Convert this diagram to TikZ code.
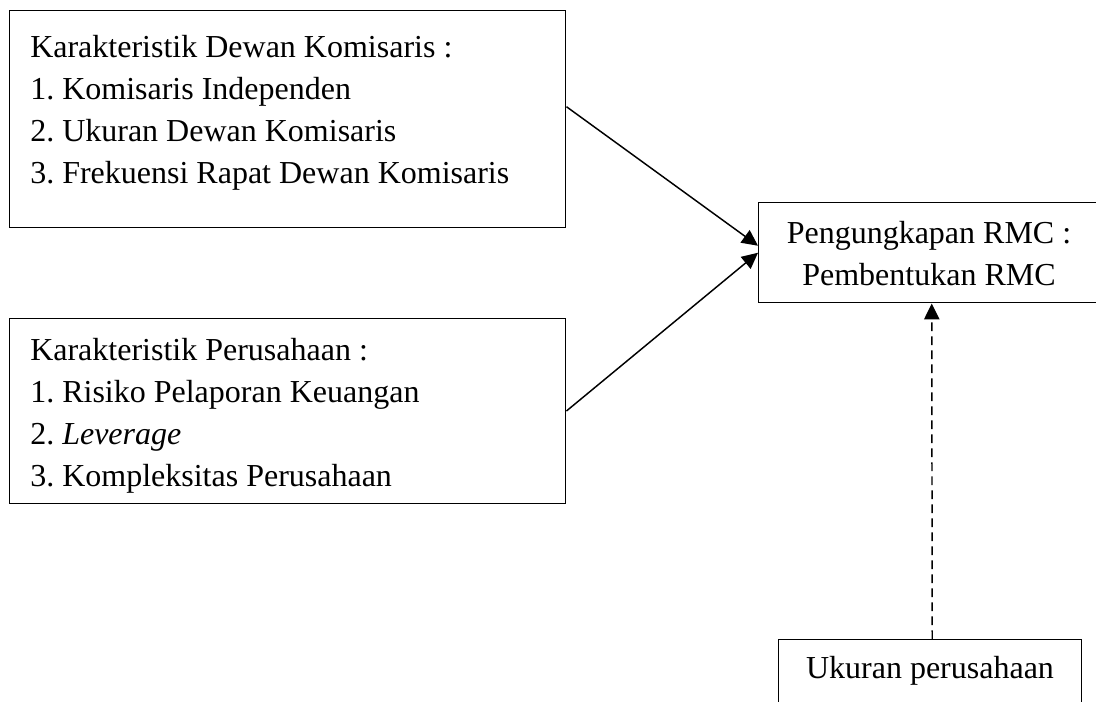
\documentclass[tikz,border=0pt]{standalone}
\usepackage{fontspec}
\setmainfont{Liberation Serif}
\usetikzlibrary{arrows.meta}
\frenchspacing
\begin{document}
\begin{tikzpicture}[x=0.75pt,y=-0.75pt,
  box/.style={draw, line width=1.1pt, inner sep=0pt, anchor=north west},
  txt/.style={inner sep=0pt, font=\fontsize{24}{31.5}\selectfont},
  conn/.style={line width=1.1pt, -{Triangle[length=12pt,width=11.5pt]}},
  dashconn/.style={conn, dash pattern=on 6.5pt off 4pt}]
\useasboundingbox (0,0) rectangle (1096,701);
% boxes
\node[box, minimum width=417pt, minimum height=162.75pt] (b1) at (9,10) {};
\node[box, minimum width=417pt, minimum height=139.1pt] (b2) at (9,317.5) {};
\node[box, minimum width=256.5pt, minimum height=75pt] (rmc) at (758,202) {};
\node[box, minimum width=227.25pt, minimum height=60pt] (ub) at (778,639) {};
% texts
\node[txt, anchor=base west] (t1) at (30,57.5) {\begin{tabular}[t]{@{}l@{}}Karakteristik Dewan Komisaris :\\1. Komisaris Independen\\2. Ukuran Dewan Komisaris\\3. Frekuensi Rapat Dewan Komisaris\end{tabular}};
\node[txt, anchor=base west] (t2) at (30,360) {\begin{tabular}[t]{@{}l@{}}Karakteristik Perusahaan :\\1. Risiko Pelaporan Keuangan\\2. \textit{Leverage}\\3. Kompleksitas Perusahaan\end{tabular}};
\node[txt, anchor=base] (t3) at (929,243) {\begin{tabular}[t]{@{}c@{}}Pengungkapan RMC :\\Pembentukan RMC\end{tabular}};
\node[txt, anchor=base] (t4) at (930,678) {Ukuran perusahaan};
% connectors
\draw[conn] ([yshift=9.4pt]b1.east) -- ([yshift=5.25pt]rmc.west);
\draw[conn] (b2.east) -- (rmc.west);
\draw[dashconn] ([xshift=1.5pt]ub.north) -- ([xshift=1.5pt]rmc.south);
\end{tikzpicture}
\end{document}
